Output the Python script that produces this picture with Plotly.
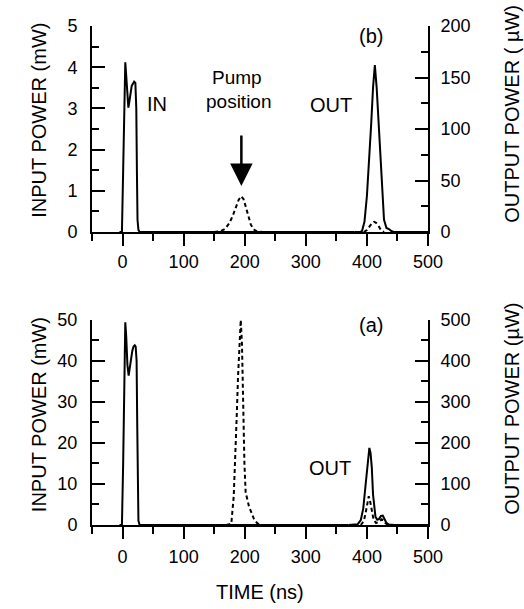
import plotly.graph_objects as go

# ---------------- data ----------------
# Panel (b) - top
b_in_t = [-5, -1, 1, 3, 4.5, 6, 8, 9.5, 11, 13, 15, 17, 19, 21, 22.5, 23.5, 24.5, 26, 28, 100, 200, 300, 380]
b_in_v = [0, 0, 1.5, 3.6, 4.12, 3.8, 3.2, 3.02, 3.15, 3.4, 3.55, 3.6, 3.65, 3.62, 3.0, 1.5, 0.3, 0.05, 0, 0, 0, 0, 0]
b_pump_t = [150, 160, 168, 175, 180, 185, 190, 194, 198, 202, 206, 210, 215, 220, 230]
b_pump_v = [0, 0.02, 0.08, 0.22, 0.38, 0.58, 0.78, 0.87, 0.8, 0.6, 0.38, 0.18, 0.06, 0.02, 0]
b_out_t = [380, 388, 392, 396, 400, 404, 407, 410, 413, 416, 419, 422, 425, 428, 432, 436, 440, 445, 500]
b_out_v = [0, 0, 1, 10, 35, 70, 105, 140, 162, 140, 105, 70, 35, 12, 4, 3, 1, 0, 0]
b_outd_t = [395, 400, 405, 409, 412, 415, 419, 423, 428]
b_outd_v = [0, 2, 6, 9, 10, 9, 6, 2, 0]

# Panel (a) - bottom
a_in_t = [-5, -1, 1, 3, 4.5, 6, 8, 10, 12, 14, 16, 18, 20, 21.5, 23, 24, 25, 26, 28, 100, 200, 300, 370]
a_in_v = [0, 0, 15, 42, 49.4, 46, 39, 36.4, 38.5, 41, 42.5, 43.5, 43.8, 43.5, 40, 25, 8, 1, 0, 0, 0, 0, 0]
a_pump_t = [170, 178, 182, 185, 187, 189, 191, 193.5, 195.5, 197.5, 199.5, 201.5, 204, 207, 211, 215, 220, 225]
a_pump_v = [0, 0.3, 7, 17, 27, 36, 44, 50, 44, 28, 15, 8, 6, 4.5, 3, 1.5, 0.5, 0]
a_out_t = [370, 385, 390, 394, 398, 401, 404, 406, 408, 410, 412, 414, 417, 420, 423, 426, 429, 432, 436, 445, 500]
a_out_v = [0, 2, 12, 40, 100, 155, 188, 175, 140, 75, 40, 20, 13, 15, 22, 23, 14, 5, 1, 0, 0]
a_outd_t = [390, 395, 398, 401, 403, 405, 408, 411, 415, 420, 424, 427, 430, 434]
a_outd_v = [0, 10, 30, 55, 70, 60, 35, 12, 5, 8, 14, 12, 5, 0]

x_ticks = [0, 100, 200, 300, 400, 500]

FONT = "Liberation Sans, Arial, sans-serif"
BLACK = "black"
solid = dict(color=BLACK, width=2)
dashed = dict(color=BLACK, width=2, dash="4px,3px")

fig = go.Figure()
# top panel
fig.add_trace(go.Scatter(x=b_in_t, y=b_in_v, mode="lines", line=solid, xaxis="x", yaxis="y"))
fig.add_trace(go.Scatter(x=b_pump_t, y=b_pump_v, mode="lines", line=dashed, xaxis="x", yaxis="y"))
fig.add_trace(go.Scatter(x=b_out_t, y=b_out_v, mode="lines", line=solid, xaxis="x", yaxis="y2"))
fig.add_trace(go.Scatter(x=b_outd_t, y=b_outd_v, mode="lines", line=dashed, xaxis="x", yaxis="y2"))
# bottom panel
fig.add_trace(go.Scatter(x=a_in_t, y=a_in_v, mode="lines", line=solid, xaxis="x2", yaxis="y3"))
fig.add_trace(go.Scatter(x=a_pump_t, y=a_pump_v, mode="lines", line=dashed, xaxis="x2", yaxis="y3"))
fig.add_trace(go.Scatter(x=a_out_t, y=a_out_v, mode="lines", line=solid, xaxis="x2", yaxis="y4"))
fig.add_trace(go.Scatter(x=a_outd_t, y=a_outd_v, mode="lines", line=dashed, xaxis="x2", yaxis="y4"))

tickfont = dict(family=FONT, size=18, color=BLACK)

def xax(anchor, standoff=0):
    return dict(range=[-50, 500], tickvals=x_ticks, ticks="outside", ticklen=12, tickwidth=2,
                minor=dict(dtick=50, tick0=0, ticks="outside", ticklen=7, tickwidth=2, tickcolor=BLACK),
                showline=True, linewidth=2, linecolor=BLACK, showgrid=False, zeroline=False,
                tickfont=tickfont, anchor=anchor, tickcolor=BLACK, ticklabelstandoff=standoff,
                domain=[0, 1])

def yax(rng, dt, domain, side, overlay=None, anchor="x", standoff=9):
    d = dict(range=rng, dtick=dt, tick0=0, ticks="inside", ticklen=13, tickwidth=2, tickcolor=BLACK,
             minor=dict(dtick=dt / 2, tick0=0, ticks="inside", ticklen=7, tickwidth=2, tickcolor=BLACK),
             showline=True, linewidth=2, linecolor=BLACK, showgrid=False, zeroline=False,
             tickfont=tickfont, side=side, anchor=anchor, ticklabelstandoff=standoff)
    if overlay:
        d["overlaying"] = overlay
    else:
        d["domain"] = domain
    return d

top_dom = [0.587, 1.0]
bot_dom = [0.0, 0.411]

fig.update_layout(
    width=524, height=609,
    margin=dict(l=92, r=96, t=26, b=84),
    paper_bgcolor="white", plot_bgcolor="white",
    showlegend=False,
    font=dict(family=FONT, color=BLACK),
    xaxis=xax("y"),
    xaxis2=xax("y3", standoff=2),
    yaxis=yax([0, 5], 1, top_dom, "left"),
    yaxis2=yax([0, 200], 50, None, "right", overlay="y", anchor="x", standoff=7),
    yaxis3=yax([0, 50], 10, bot_dom, "left", anchor="x2"),
    yaxis4=yax([0, 500], 100, None, "right", overlay="y3", anchor="x2", standoff=7),
)

afont = dict(family=FONT, size=20, color=BLACK)
ann = []
def title(text, x, y, angle=-90):
    ann.append(dict(text=text, xref="paper", yref="paper", x=x, y=y, xanchor="center",
                    yanchor="middle", textangle=angle, showarrow=False, font=afont))
# axis titles
title("INPUT POWER (mW)", -0.158, 0.812)
title("INPUT POWER (mW)", -0.158, 0.222)
title("OUTPUT POWER ( µW)", 1.25, 0.824)
title("OUTPUT POWER (µW)", 1.25, 0.233)
title("TIME (ns)", 0.5, -0.135, angle=0)

def lab(text, xr, yr, x, y, size=20):
    ann.append(dict(text=text, xref=xr, yref=yr, x=x, y=y, xanchor="center", yanchor="middle",
                    showarrow=False, font=dict(family=FONT, size=size, color=BLACK)))
# in-plot labels, top
lab("IN", "x", "y", 57, 3.1)
lab("Pump", "x", "y", 188, 3.74, 19)
lab("position", "x", "y", 190, 3.18, 19)
lab("OUT", "x", "y2", 342, 123)
lab("(b)", "x", "y2", 406, 190)
ann.append(dict(text="", xref="x", yref="y", x=194.5, y=1.12, ax=194.5, ay=2.38,
                axref="x", ayref="y", showarrow=True, arrowhead=2, arrowwidth=2.5,
                arrowsize=1.8, arrowcolor=BLACK))
# bottom
lab("OUT", "x2", "y4", 340, 140)
lab("(a)", "x2", "y4", 406, 488)
fig.update_layout(annotations=ann)

fig.write_html("out.html", config={"displayModeBar": False},
               post_script="document.body.style.margin='0px';")
